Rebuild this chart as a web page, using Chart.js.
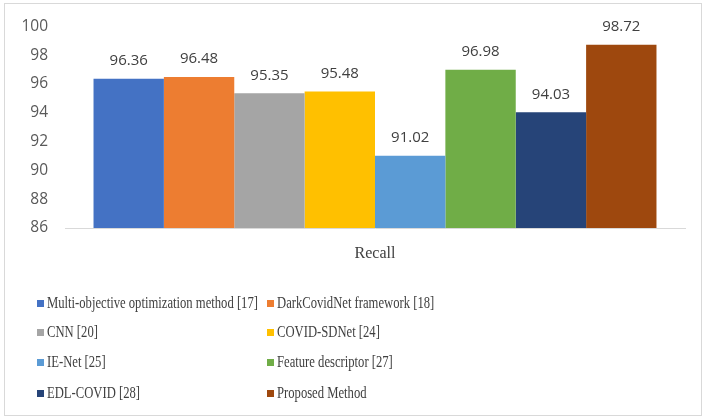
<!DOCTYPE html>
<html>
<head>
<meta charset="utf-8">
<script src="https://cdn.jsdelivr.net/npm/chart.js@4"></script>
<style>
  html, body { margin:0; padding:0; background:#fff; }
  #frame { position:absolute; left:4px; top:3px; width:698px; height:413px; border:1px solid #d9d9d9; box-sizing:border-box; }
  #wrap { position:absolute; left:0; top:0; width:708px; height:270px; }
  #legend { position:absolute; left:0; top:0; width:708px; height:420px; pointer-events:none;
            font-family:"Liberation Serif","Times New Roman",serif; font-size:16px; color:#404040; }
  .item { position:absolute; height:20px; line-height:20px; white-space:nowrap; }
  .sw { position:absolute; width:7px; height:7px; top:7px; }
  .tx { position:absolute; left:10px; top:0; transform:scaleX(0.79); transform-origin:0 0; }
</style>
</head>
<body>
<div id="frame"></div>
<div id="wrap"><canvas id="c" width="708" height="270"></canvas></div>
<div id="legend"></div>
<script>
const categories = ["Recall"];
const seriesNames = [
  "Multi-objective optimization method [17]",
  "DarkCovidNet framework [18]",
  "CNN [20]",
  "COVID-SDNet [24]",
  "IE-Net [25]",
  "Feature descriptor [27]",
  "EDL-COVID [28]",
  "Proposed Method"
];
const recallValues = [96.36, 96.48, 95.35, 95.48, 91.02, 96.98, 94.03, 98.72];
const seriesColors = ["#4472C4", "#ED7D31", "#A5A5A5", "#FFC000", "#5B9BD5", "#70AD47", "#264478", "#9E480E"];
const yTicks = [86, 88, 90, 92, 94, 96, 98, 100];

const datasets = seriesNames.map((name, i) => ({
  label: name,
  data: [recallValues[i]],
  backgroundColor: seriesColors[i],
  borderWidth: 0,
  barPercentage: 1,
  categoryPercentage: 0.908
}));

const valueLabels = {
  id: 'valueLabels',
  afterDatasetsDraw(chart) {
    const ctx = chart.ctx;
    ctx.save();
    ctx.font = '15px "Open Sans", "DejaVu Sans", sans-serif';
    ctx.fillStyle = '#404040';
    ctx.textAlign = 'center';
    ctx.textBaseline = 'middle';
    chart.data.datasets.forEach((ds, i) => {
      const meta = chart.getDatasetMeta(i);
      meta.data.forEach((bar, j) => {
        ctx.fillText(ds.data[j].toFixed(2), bar.x, bar.y - 18);
      });
    });
    ctx.restore();
  }
};

new Chart(document.getElementById('c'), {
  type: 'bar',
  data: { labels: categories, datasets: datasets },
  options: {
    responsive: false,
    animation: false,
    layout: { padding: { left: 0, right: 23, top: 12, bottom: 0 } },
    plugins: { legend: { display: false }, tooltip: { enabled: false } },
    scales: {
      x: {
        grid: { display: false, drawTicks: false },
        border: { display: true, color: '#d9d9d9', width: 1 },
        ticks: { padding: 16, color: '#404040', font: { family: '"Liberation Serif", "Times New Roman", serif', size: 16 } },
        afterFit(scale) { scale.height = 42; }
      },
      y: {
        min: 86, max: 100,
        afterBuildTicks(scale) { scale.ticks = yTicks.map(v => ({ value: v })); },
        grid: { display: false, drawTicks: false },
        border: { display: false },
        ticks: { padding: 17, color: '#595959', font: { family: '"Open Sans", "DejaVu Sans", sans-serif', size: 15.5 } },
        afterFit(scale) { scale.width = 65; }
      }
    }
  },
  plugins: [valueLabels]
});

// legend, two columns
const legend = document.getElementById('legend');
const colX = [37, 267];
const rowY = [303, 332, 362, 393];
seriesNames.forEach((name, i) => {
  const item = document.createElement('div');
  item.className = 'item';
  item.style.left = colX[i % 2] + 'px';
  item.style.top = (rowY[Math.floor(i / 2)] - 10) + 'px';
  const sw = document.createElement('div');
  sw.className = 'sw';
  sw.style.background = seriesColors[i];
  const tx = document.createElement('div');
  tx.className = 'tx';
  tx.textContent = name;
  item.appendChild(sw); item.appendChild(tx);
  legend.appendChild(item);
});
</script>
</body>
</html>
